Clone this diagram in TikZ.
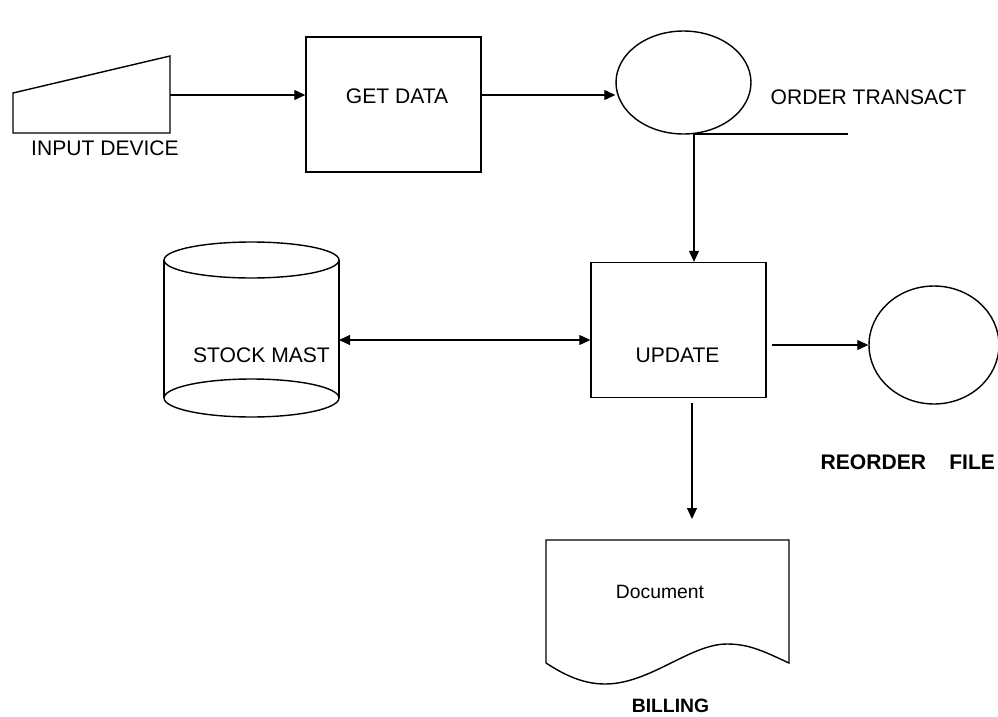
\documentclass[tikz,border=0pt]{standalone}
\usepackage{fontspec}
\setmainfont{Liberation Sans}
\usetikzlibrary{arrows.meta,shapes.geometric}

\begin{document}
\begin{tikzpicture}[x=0.02cm, y=-0.02cm, >={Triangle[length=2.2mm,width=2mm]},
  line width=0.8pt,
  proc/.style={draw, minimum width=3.5cm, minimum height=2.7cm, inner sep=0pt},
  store/.style={draw, ellipse, inner sep=0pt},
  lbl/.style={font=\fontsize{12}{14}\selectfont, inner sep=0pt},
  caption/.style={font=\fontsize{12}{14}\selectfont\bfseries, inner sep=0pt},
  flow/.style={->, line width=0.6pt}]
  \useasboundingbox (0,0) rectangle (998,717);

  % Input device (manual input shape)
  \draw (13,93) -- (170,56) -- (170,133) -- (13,133) -- cycle;
  \coordinate (input) at (170,95);
  \node[lbl] (input-lbl) at (105,148) {INPUT DEVICE};

  % Processes
  \node[proc] (getdata) at (393.5,104.5) {};
  \node[lbl] (getdata-lbl) at (397,96) {GET DATA};
  \node[proc] (update) at (678.5,330) {};
  \node[lbl] (update-lbl) at (677.5,355) {UPDATE};

  % Order transaction file
  \node[store, minimum width=2.7cm, minimum height=2.06cm] (order) at (683.5,82.5) {};
  \node[lbl, anchor=west] (order-lbl) at (770,97) {ORDER TRANSACT};
  \coordinate (order-tap) at (694,134);
  \coordinate (order-end) at (848,134);
  \draw (order-tap) -- (order-end);

  % Stock master (cylinder)
  \draw (164,260) -- (164,398);
  \draw (339,260) -- (339,398);
  \draw (251.5,260) ellipse (1.75cm and 0.36cm);
  \draw (251.5,398) ellipse (1.75cm and 0.38cm);
  \coordinate (stock) at (339,340);
  \node[lbl] (stock-lbl) at (261.5,355) {STOCK MAST};

  % Reorder file
  \node[store, minimum width=2.6cm, minimum height=2.36cm] (reorder) at (934,345) {};
  \node[caption, anchor=west] (reorder-lbl) at (820,462) {REORDER\hspace{1.1em}FILE};

  % Billing document
  \draw (546,663) -- (546,540) -- (789,540) -- (789,663)
    .. controls (765,652) and (750,644) .. (727,644)
    .. controls (690,644) and (650,684) .. (605,684)
    .. controls (580,684) and (560,672) .. (546,663);
  \coordinate (billing) at (692,540);
  \node[font=\fontsize{11}{13}\selectfont, inner sep=0pt] (doc-lbl) at (660,592) {Document};
  \node[caption, font=\fontsize{11}{13}\selectfont\bfseries] (billing-lbl) at (670.5,706) {BILLING};

  % Data flows
  \draw[flow] (input) -- (getdata.west |- input);
  \draw[flow] (getdata.east |- input) -- (order.west |- input);
  \draw[flow] (order-tap) -- (order-tap |- update.north);
  \draw[flow, <->] (stock) -- (update.west |- stock);
  \draw[flow, shorten <=0.1cm] (update.east |- reorder.west) -- (reorder.west);
  \draw[flow, shorten <=0.1cm, shorten >=0.42cm] (update.south -| billing) -- (billing);
\end{tikzpicture}
\end{document}
